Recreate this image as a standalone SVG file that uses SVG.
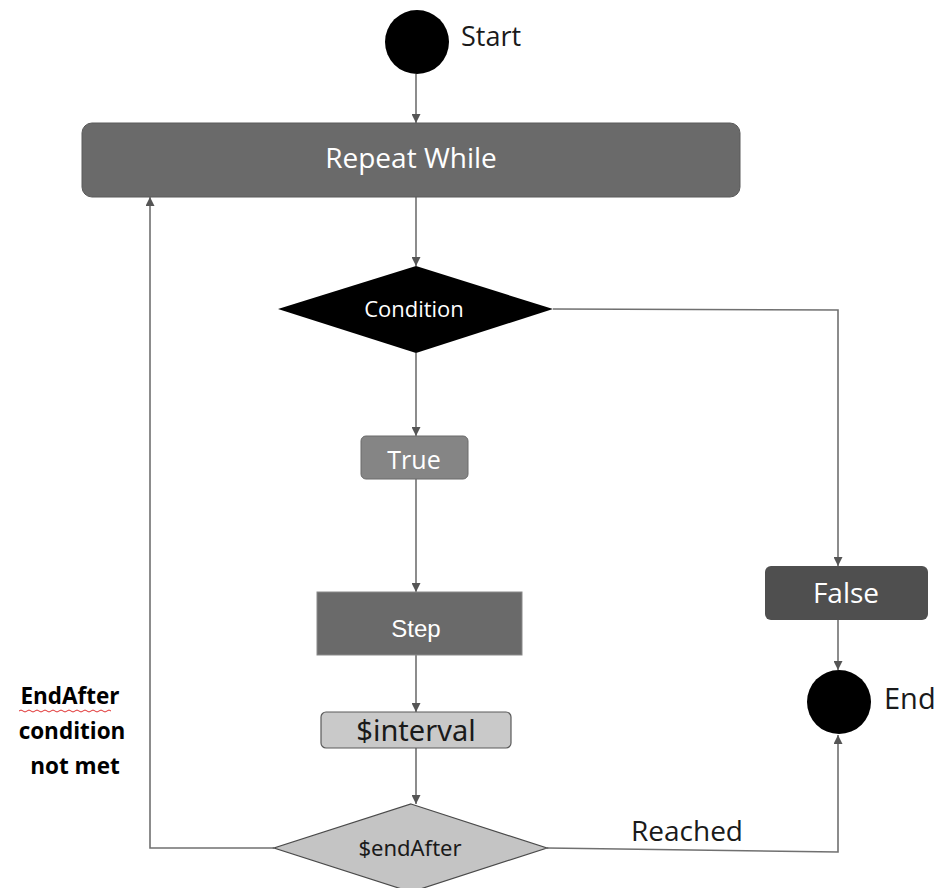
<svg xmlns="http://www.w3.org/2000/svg" width="943" height="888" viewBox="0 0 943 888">
  <style>
    .wire { fill: none; stroke: #707070; stroke-width: 1.6; }
    .seg { font-family: "Open Sans", "Noto Sans", sans-serif; }
    .cal { font-family: "Noto Sans", "Open Sans", sans-serif; }
    .white { fill: #ffffff; }
    .dark { fill: #1a1a1a; }
  </style>
  <defs>
    <marker id="arrow" viewBox="0 0 10 10" refX="10" refY="5" markerWidth="9" markerHeight="9" markerUnits="userSpaceOnUse" orient="auto">
      <path d="M0,0 L10,5 L0,10 Z" fill="#555555"/>
    </marker>
  </defs>

  <rect width="943" height="888" fill="#ffffff"/>

  <!-- connectors -->
  <g id="connectors">
    <path class="wire" d="M416,74 L416,123" marker-end="url(#arrow)"/>
    <path class="wire" d="M416,197 L416,266" marker-end="url(#arrow)"/>
    <path class="wire" d="M553,309 L838,310 L838,566" marker-end="url(#arrow)"/>
    <path class="wire" d="M416,353 L416,436" marker-end="url(#arrow)"/>
    <path class="wire" d="M416,479 L416,592" marker-end="url(#arrow)"/>
    <path class="wire" d="M416,655 L416,712" marker-end="url(#arrow)"/>
    <path class="wire" d="M416,748 L416,804" marker-end="url(#arrow)"/>
    <path class="wire" d="M838,620 L838,670" marker-end="url(#arrow)"/>
    <path class="wire" d="M274,848 L150,848 L150,197" marker-end="url(#arrow)"/>
    <path class="wire" d="M547,848 L838,852 L838,735" marker-end="url(#arrow)"/>
  </g>

  <!-- start -->
  <g id="start">
    <circle cx="417" cy="42" r="32" fill="#000000"/>
    <text class="seg dark" x="461" y="46" font-size="27">Start</text>
  </g>

  <!-- repeat while -->
  <g id="repeat-while">
    <rect x="82" y="123" width="658" height="74" rx="10" fill="#6a6a6a" stroke="#5a5a5a" stroke-width="1"/>
    <text class="seg white" x="411" y="168" font-size="28" text-anchor="middle">Repeat While</text>
  </g>

  <!-- condition -->
  <g id="condition">
    <polygon points="416,266 553,309 416,353 278,309" fill="#000000"/>
    <text class="seg white" x="414" y="317" font-size="22" text-anchor="middle">Condition</text>
  </g>

  <!-- true -->
  <g id="true">
    <rect x="361" y="436" width="107" height="43" rx="5" fill="#858585" stroke="#6a6a6a" stroke-width="1"/>
    <text class="seg white" x="414" y="469" font-size="25" text-anchor="middle">True</text>
  </g>

  <!-- step -->
  <g id="step">
    <rect x="317" y="592" width="205" height="63" fill="#6a6a6a" stroke="#8a8a8a" stroke-width="1"/>
    <text x="416" y="637" font-family="Liberation Sans, Arial, sans-serif" font-size="24" fill="#ffffff" text-anchor="middle">Step</text>
  </g>

  <!-- interval -->
  <g id="interval">
    <rect x="321" y="712" width="190" height="36" rx="5" fill="#c9c9c9" stroke="#5a5a5a" stroke-width="1.2"/>
    <text class="cal dark" x="416" y="741" font-size="29" text-anchor="middle">$interval</text>
  </g>

  <!-- end-after check -->
  <g id="end-after">
    <polygon points="411,804 547,848 411,892 274,848" fill="#c4c4c4" stroke="#4a4a4a" stroke-width="1.2"/>
    <text class="cal dark" x="410" y="856" font-size="22" text-anchor="middle">$endAfter</text>
  </g>

  <!-- false -->
  <g id="false">
    <rect x="765" y="566" width="163" height="54" rx="6" fill="#4f4f4f"/>
    <text class="seg white" x="846" y="603" font-size="28" text-anchor="middle">False</text>
  </g>

  <!-- end -->
  <g id="end">
    <circle cx="839" cy="702" r="32" fill="#000000"/>
    <text class="seg dark" x="884" y="709" font-size="29">End</text>
  </g>

  <!-- edge labels -->
  <g id="labels">
    <text class="seg dark" x="631" y="841" font-size="28">Reached</text>
    <g font-family="Open Sans, Noto Sans, sans-serif" font-weight="bold" font-size="22.5" fill="#000000" text-anchor="middle">
      <text x="70" y="704">EndAfter</text>
      <text x="72" y="739">condition</text>
      <text x="75" y="774">not met</text>
    </g>
    <path d="M19,711 q2,-2 4,0 t4,0 t4,0 t4,0 t4,0 t4,0 t4,0 t4,0 t4,0 t4,0 t4,0 t4,0 t4,0 t4,0 t4,0 t4,0 t4,0 t4,0 t4,0 t4,0 t4,0 t4,0 t4,0" fill="none" stroke="#e03030" stroke-width="1"/>
  </g>
</svg>
